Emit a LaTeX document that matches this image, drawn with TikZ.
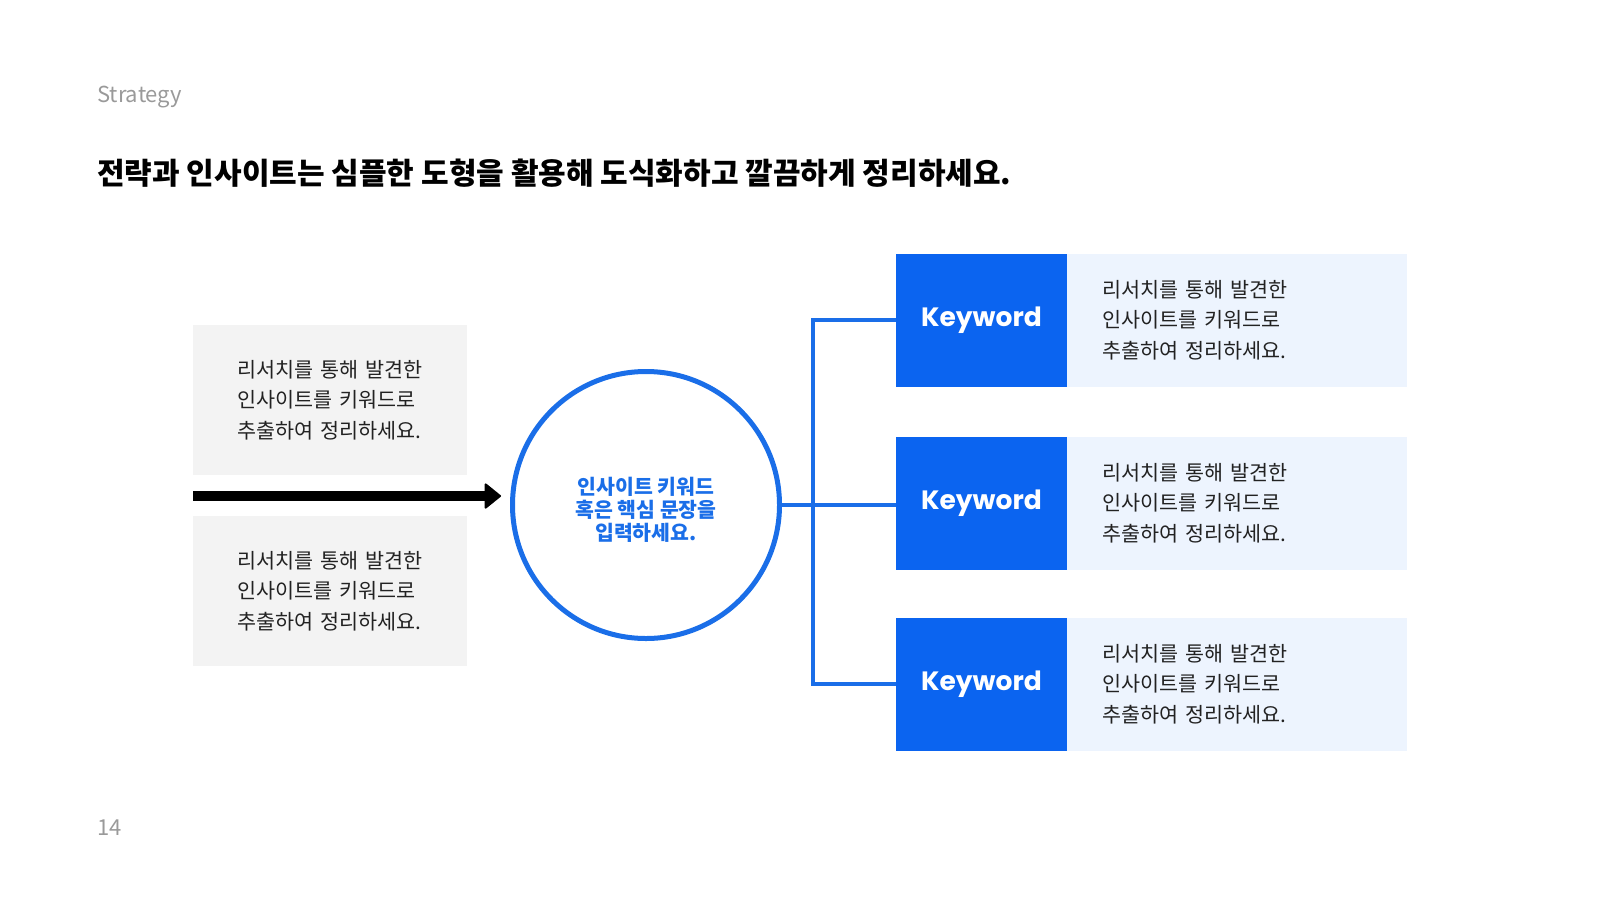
\documentclass[tikz,border=0pt]{standalone}
\usepackage{fontspec}
\setmainfont{Noto Sans CJK KR}
\newfontfamily\kwfont{Poppins}
\usetikzlibrary{arrows.meta}
\definecolor{kwblue}{HTML}{0B64F0}
\definecolor{lineblue}{HTML}{1A6EE8}
\definecolor{notegray}{HTML}{F3F3F3}
\definecolor{paleblue}{HTML}{EDF4FE}
\definecolor{bodytext}{HTML}{222222}
\definecolor{labelgray}{HTML}{9A9A9A}

\begin{document}
\begin{tikzpicture}[x=1pt, y=-1pt,
        body/.style={font=\fontsize{20.7}{30.6}\selectfont, text=bodytext, align=left},
        note/.style={body, fill=notegray, text width=186pt, inner xsep=44pt, inner ysep=0pt, minimum height=150pt},
        keybox/.style={fill=kwblue, text=white, font=\kwfont\bfseries\fontsize{26.5}{30}\selectfont, minimum width=171pt, minimum height=133pt, inner sep=0pt},
        descbox/.style={body, fill=paleblue, text width=270pt, inner xsep=35pt, inner ysep=0pt, minimum height=133pt},
        link/.style={draw=lineblue, line width=4pt}]
    \useasboundingbox (0,0) rectangle (1600,900);
    \node[anchor=west, inner sep=0pt, text=labelgray, font=\fontsize{22}{24}\selectfont] (label) at (97,97) {Strategy};
    \node[anchor=west, inner sep=0pt, text=black, font=\bfseries\fontsize{30}{34}\selectfont] (title) at (97,173) {전략과 인사이트는 심플한 도형을 활용해 도식화하고 깔끔하게 정리하세요.};
    \node[anchor=west, inner sep=0pt, text=labelgray, font=\fontsize{22}{24}\selectfont] (page) at (97,828) {14};

    \node[note] (note1) at (330,400) {리서치를 통해 발견한\\인사이트를 키워드로\\추출하여 정리하세요.};
    \node[note] (note2) at (330,591) {리서치를 통해 발견한\\인사이트를 키워드로\\추출하여 정리하세요.};

    \node[circle, draw=lineblue, line width=5pt, minimum size=267pt,
        label={[align=center, text=lineblue, font=\bfseries\fontsize{20.5}{23}\selectfont, yshift=-5pt]center:인사이트 키워드\\혹은 핵심 문장을\\입력하세요.}] (hub) at (646,505) {};

    \coordinate (arrowstart) at (193,496);
    \draw[line width=10pt, -{Triangle[round, length=17pt, width=27pt, line width=2pt]}, shorten >=9pt] (arrowstart) -- (arrowstart -| hub.west);

    \foreach \i/\y in {1/320, 2/503, 3/684} {
        \node[keybox] (kw\i) at (981.5,\y) {Keyword};
        \node[descbox, anchor=west] (desc\i) at (kw\i.east) {리서치를 통해 발견한\\인사이트를 키워드로\\추출하여 정리하세요.};
    }

    \coordinate (trunk) at (813,0);
    \draw[link] (hub.east) -- (hub.east -| kw2.west);
    \draw[link] (kw1.west) -- (kw1.west -| trunk) -- (kw3.west -| trunk) -- (kw3.west);
\end{tikzpicture}
\end{document}
